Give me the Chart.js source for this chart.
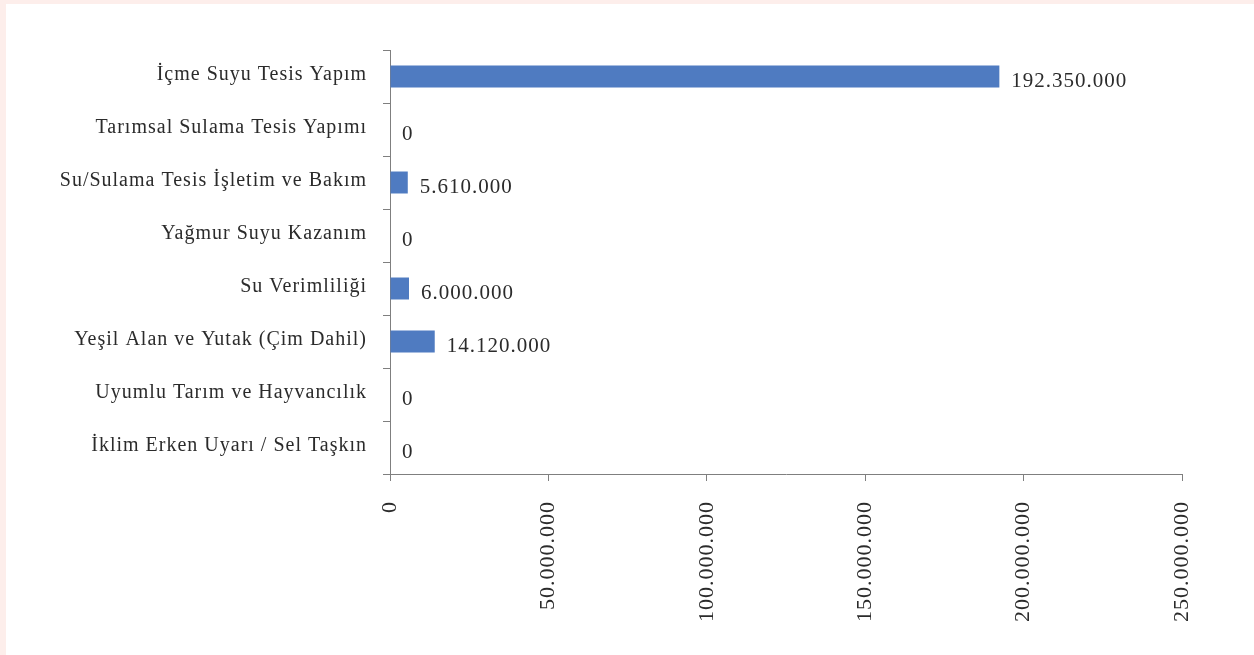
<!DOCTYPE html>
<html>
<head>
<meta charset="utf-8">
<script src="https://cdn.jsdelivr.net/npm/chart.js@4"></script>
<style>
  html, body { margin:0; padding:0; background:#fdeeeb; }
  #wrap { position:absolute; left:6px; top:4px; width:1248px; height:651px; background:#fff; }
</style>
</head>
<body>
<div id="wrap"><canvas id="c" width="1248" height="651"></canvas></div>
<script>
const categories = [
  'İçme Suyu Tesis Yapım',
  'Tarımsal Sulama Tesis Yapımı',
  'Su/Sulama Tesis İşletim ve Bakım',
  'Yağmur Suyu Kazanım',
  'Su Verimliliği',
  'Yeşil Alan ve Yutak (Çim Dahil)',
  'Uyumlu Tarım ve Hayvancılık',
  'İklim Erken Uyarı / Sel Taşkın'
];
const amounts = [192350000, 0, 5610000, 0, 6000000, 14120000, 0, 0];
const axisMax = 250000000;
const axisStep = 50000000;

const fmt = v => String(Math.round(v)).replace(/\B(?=(\d{3})+(?!\d))/g, '.');
const FONT = '"Liberation Serif", "DejaVu Serif", serif';

// wider letter spacing to get closer to the original serif face
const spacing = {
  id: 'spacing',
  beforeDraw(chart) { chart.ctx.letterSpacing = '1px'; }
};

// value labels at the end of each bar
const valueLabels = {
  id: 'valueLabels',
  afterDatasetsDraw(chart) {
    const ctx = chart.ctx;
    const meta = chart.getDatasetMeta(0);
    ctx.save();
    ctx.font = '21px ' + FONT;
    ctx.fillStyle = '#2b2b2b';
    ctx.textBaseline = 'middle';
    ctx.textAlign = 'left';
    meta.data.forEach((bar, i) => {
      ctx.fillText(fmt(amounts[i]), bar.x + 12, bar.y + 5);
    });
    ctx.restore();
  }
};

new Chart(document.getElementById('c'), {
  type: 'bar',
  data: {
    labels: categories,
    datasets: [{
      data: amounts,
      backgroundColor: '#4f7bc1',
      barPercentage: 0.83,
      categoryPercentage: 0.5
    }]
  },
  options: {
    indexAxis: 'y',
    responsive: false,
    animation: false,
    layout: { padding: { top: 46, right: 72, left: 0, bottom: 0 } },
    plugins: { legend: { display: false }, tooltip: { enabled: false } },
    scales: {
      x: {
        min: 0, max: axisMax,
        afterFit: s => { s.height = 181; },
        border: { color: '#7f7f7f', width: 1 },
        grid: { drawOnChartArea: false, tickLength: 7, color: '#7f7f7f' },
        ticks: {
          stepSize: axisStep, minRotation: 90, maxRotation: 90, padding: 20,
          color: '#2b2b2b', font: { family: FONT, size: 22 },
          callback: v => fmt(v)
        }
      },
      y: {
        afterFit: s => { s.width = 384; },
        border: { color: '#7f7f7f', width: 1 },
        grid: { drawOnChartArea: false, offset: true, tickLength: 7, color: '#7f7f7f' },
        ticks: { padding: 16, labelOffset: -2, color: '#2b2b2b', font: { family: FONT, size: 20 } }
      }
    }
  },
  plugins: [spacing, valueLabels]
});
</script>
</body>
</html>
